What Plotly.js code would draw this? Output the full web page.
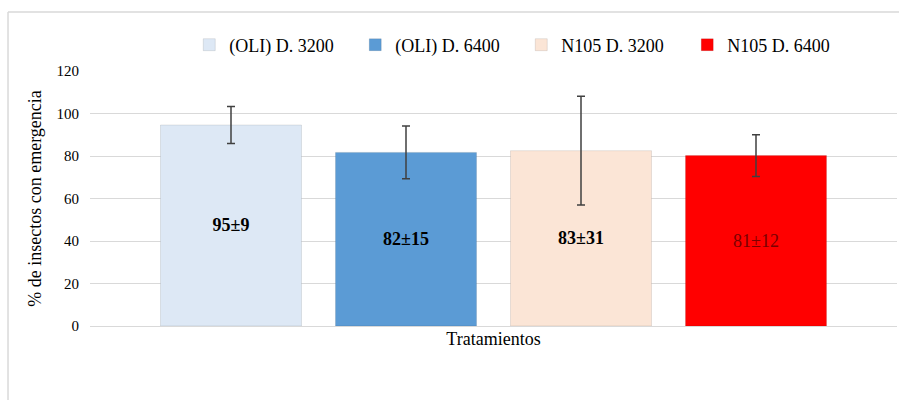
<!DOCTYPE html>
<html>
<head>
<meta charset="utf-8">
<script src="https://cdn.plot.ly/plotly-3.0.1.min.js"></script>
<style>html,body{margin:0;padding:0;background:#fff;}#chart{width:899px;height:400px;}</style>
</head>
<body>
<div id="chart"></div>
<script>
var categories = ['Tratamientos'];
var seriesNames = ['(OLI) D. 3200', '(OLI) D. 6400', 'N105 D. 3200', 'N105 D. 6400'];
var means = [94.6, 81.7, 82.5, 80.2];
var errors = [8.7, 12.4, 25.6, 9.8];
var labels = ['95±9', '82±15', '83±31', '81±12'];
var colors = ['#dde8f5', '#5b9bd5', '#fbe5d6', '#ff0000'];
var labelColors = ['#000000', '#000000', '#000000', '#7a0000'];
var yTicks = [0, 20, 40, 60, 80, 100, 120];

var serif = '"Liberation Serif", "Times New Roman", serif';
var traces = seriesNames.map(function (name, i) {
  return {
    type: 'bar',
    name: name,
    x: categories,
    y: [means[i]],
    text: [i === 3 ? labels[i] : '<b>' + labels[i] + '</b>'],
    textposition: 'inside',
    insidetextanchor: 'middle',
    textangle: 0,
    textfont: {family: serif, size: 18, color: labelColors[i]},
    marker: {color: colors[i], line: {color: 'rgba(0,0,0,0.12)', width: 0.8}},
    error_y: {type: 'data', array: [errors[i]], visible: true, color: '#404040', thickness: 1.5, width: 4},
    hoverinfo: 'skip'
  };
});

var layout = {
  width: 899, height: 400,
  margin: {l: 90, r: 2, t: 71, b: 74},
  paper_bgcolor: '#ffffff', plot_bgcolor: '#ffffff',
  font: {family: serif, color: '#000'},
  barmode: 'group',
  bargap: 0.1326,
  bargroupgap: 0.194,
  showlegend: true,
  legend: {
    orientation: 'h', x: 0.123, xanchor: 'left', y: 1.102, yanchor: 'middle',
    font: {family: serif, size: 18, color: '#000'},
    entrywidth: 121, entrywidthmode: 'pixels',
    bgcolor: 'rgba(0,0,0,0)', traceorder: 'normal'
  },
  xaxis: {
    type: 'category', showticklabels: false, showgrid: false, zeroline: false,
    showline: false, ticks: '', automargin: false,
    title: {text: 'Tratamientos', font: {family: serif, size: 18, color: '#000'}, standoff: 6}
  },
  yaxis: {
    range: [0, 120], tickvals: yTicks, ticktext: yTicks.map(String),
    showgrid: true, gridcolor: '#d9d9d9', gridwidth: 1,
    zeroline: true, zerolinecolor: '#d9d9d9', zerolinewidth: 1,
    showline: false, ticks: '', ticklabelstandoff: 10, automargin: false,
    tickfont: {family: serif, size: 15, color: '#000'},
    title: {text: '% de insectos con emergencia', font: {family: serif, size: 18, color: '#000'}, standoff: 10}
  },
  shapes: [
    {type: 'line', xref: 'paper', yref: 'paper', x0: -0.1016, x1: 1.01, y0: 1.2314, y1: 1.2314, line: {color: '#d9d9d9', width: 1.5}},
    {type: 'line', xref: 'paper', yref: 'paper', x0: -0.1016, x1: -0.1016, y0: 1.2314, y1: -0.3, line: {color: '#d9d9d9', width: 1.5}}
  ]
};

Plotly.newPlot('chart', traces, layout, {staticPlot: true, displayModeBar: false});
</script>
</body>
</html>
